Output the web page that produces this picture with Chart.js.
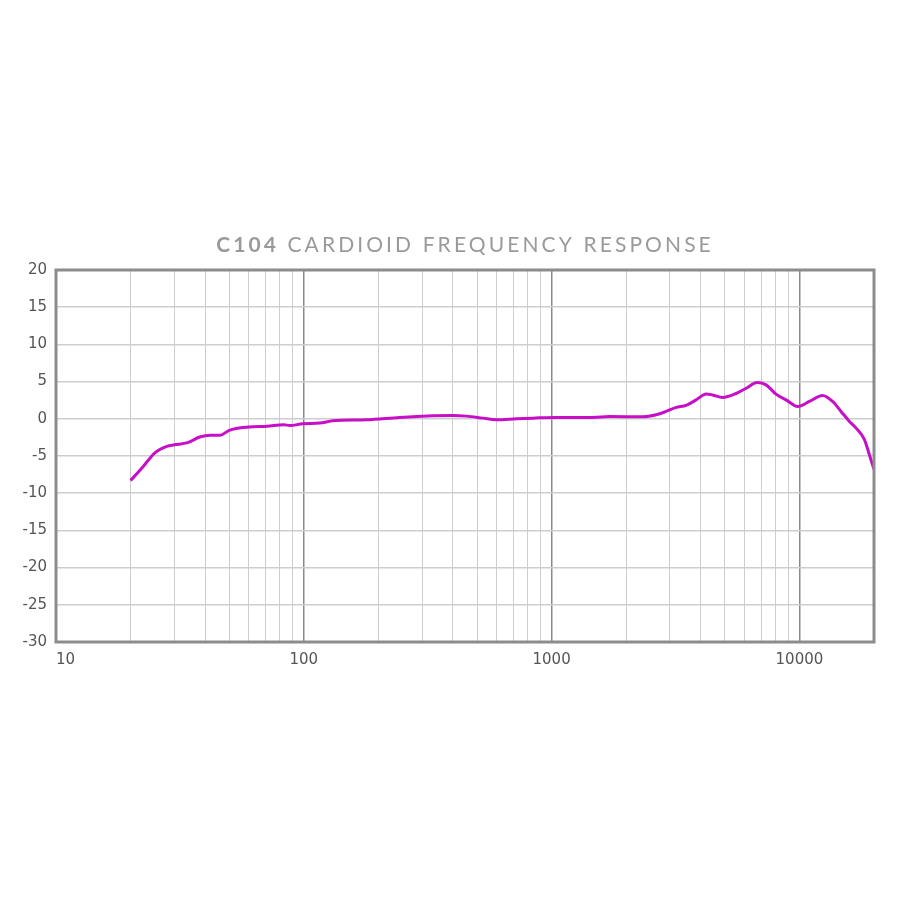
<!DOCTYPE html>
<html>
<head>
<meta charset="utf-8">
<script src="https://cdn.jsdelivr.net/npm/chart.js@4"></script>
<style>
html,body{margin:0;padding:0;background:#ffffff;}
#wrap{width:900px;height:900px;position:relative;}
</style>
</head>
<body>
<div id="wrap"><canvas id="respChart"></canvas></div>
<script>
/* =========================
   C104 CARDIOID FREQUENCY RESPONSE
========================= */

const titleBold = "C104";
const titleRest = " CARDIOID FREQUENCY RESPONSE";

// frequency (Hz) and level (dB)
const freqs = [
20, 22.5, 25, 28, 30, 34, 38, 42, 46, 50,
60, 71, 83, 88, 99, 116, 131, 179, 244, 332,
400, 453, 528, 598, 721, 841, 1045, 1468, 1713, 2333,
2642, 2899, 3182, 3490, 3830, 4204, 4470, 4903, 5555, 6095,
6750, 7340, 8050, 8830, 9840, 10970, 12410, 13610, 14720, 15920,
16940, 18300, 19160, 20000
];

const levels = [
-8.3, -6.4, -4.6, -3.7, -3.5, -3.2, -2.45, -2.2, -2.2, -1.55,
-1.1, -1.0, -0.8, -0.9, -0.67, -0.58, -0.27, -0.13, 0.19, 0.4,
0.45, 0.36, 0.09, -0.13, 0, 0.09, 0.19, 0.19, 0.3, 0.27,
0.54, 0.99, 1.53, 1.8, 2.55, 3.35, 3.2, 2.87, 3.4, 4.1,
4.88, 4.56, 3.31, 2.55, 1.66, 2.33, 3.14, 2.33, 0.99, -0.35,
-1.25, -2.8, -4.83, -6.8
];

// vertical grid positions and which ones get a label
const gridFreqs = [
10, 20, 30, 40, 50, 60, 70, 80, 90,
100, 200, 300, 400, 500, 600, 700, 800, 900,
1000, 2000, 3000, 4000, 5000, 6000, 7000, 8000, 9000,
10000, 20000
];
const xLabels = [10, 100, 1000, 10000];

const yMin = -30;
const yMax = 20;
const yStep = 5;

const frameAndTitle = {
id: "frameAndTitle",
afterDraw(chart){
const ctx = chart.ctx;
const a = chart.chartArea;

ctx.save();
ctx.strokeStyle = "#8c8c8c";
ctx.lineWidth = 3;
ctx.strokeRect(a.left, a.top, a.right - a.left, a.bottom - a.top);
ctx.restore();

// title, bold model number + light text, letter spaced
ctx.save();
ctx.fillStyle = "#9a9a9a";
ctx.textBaseline = "alphabetic";
ctx.textAlign = "left";
const spacing = 3.1;
if("letterSpacing" in ctx) ctx.letterSpacing = spacing + "px";
ctx.font = "bold 21px Lato";
const w1 = ctx.measureText(titleBold).width;
ctx.font = "normal 21px Lato";
const w2 = ctx.measureText(titleRest).width;
const total = w1 + w2;
let x = (a.left + a.right) / 2 - total / 2;
const y = 252;
ctx.font = "bold 21px Lato";
ctx.fillText(titleBold, x, y);
ctx.font = "normal 21px Lato";
ctx.fillText(titleRest, x + w1, y);
ctx.restore();
}
};

const ctx = document.getElementById("respChart").getContext("2d");

new Chart(ctx,{

type:"line",

data:{
datasets:[
{
label:"Cardioid",
data: freqs.map((f,i)=>({x:f, y:levels[i]})),
borderColor:"#c60fc6",
borderWidth:3,
pointRadius:0,
fill:false,
tension:.3,
cubicInterpolationMode:"monotone"
}
]
},

options:{
responsive:true,
maintainAspectRatio:false,
animation:false,
layout:{
padding:{top:270, right:26, bottom:228, left:0}
},
plugins:{
legend:{display:false},
title:{display:false},
tooltip:{enabled:false}
},
scales:{
x:{
type:"logarithmic",
min:10,
max:20000,
afterBuildTicks:(axis)=>{
axis.ticks = gridFreqs.map(v=>({value:v}));
},
afterFit:(scale)=>{ scale.height = 30; },
border:{display:false},
grid:{
drawTicks:false,
lineWidth:(c)=> xLabels.includes(c.tick && c.tick.value) ? 1.5 : 1,
color:(c)=> xLabels.includes(c.tick && c.tick.value) ? "#8a8a8a" : "#cdcdcd"
},
ticks:{
autoSkip:false,
maxRotation:0,
align:"inner",
padding:9,
color:"#555555",
font:{family:"DejaVu Sans", size:15},
callback:(v)=> xLabels.includes(v) ? String(v) : ""
}
},
y:{
min:yMin,
max:yMax,
afterFit:(scale)=>{ scale.width = 56; },
border:{display:false},
grid:{
drawTicks:false,
color:"#cdcdcd",
lineWidth:1.5
},
ticks:{
stepSize:yStep,
padding:9,
color:"#555555",
font:{family:"DejaVu Sans", size:15}
}
}
}
},

plugins:[frameAndTitle]

});
</script>
</body>
</html>
